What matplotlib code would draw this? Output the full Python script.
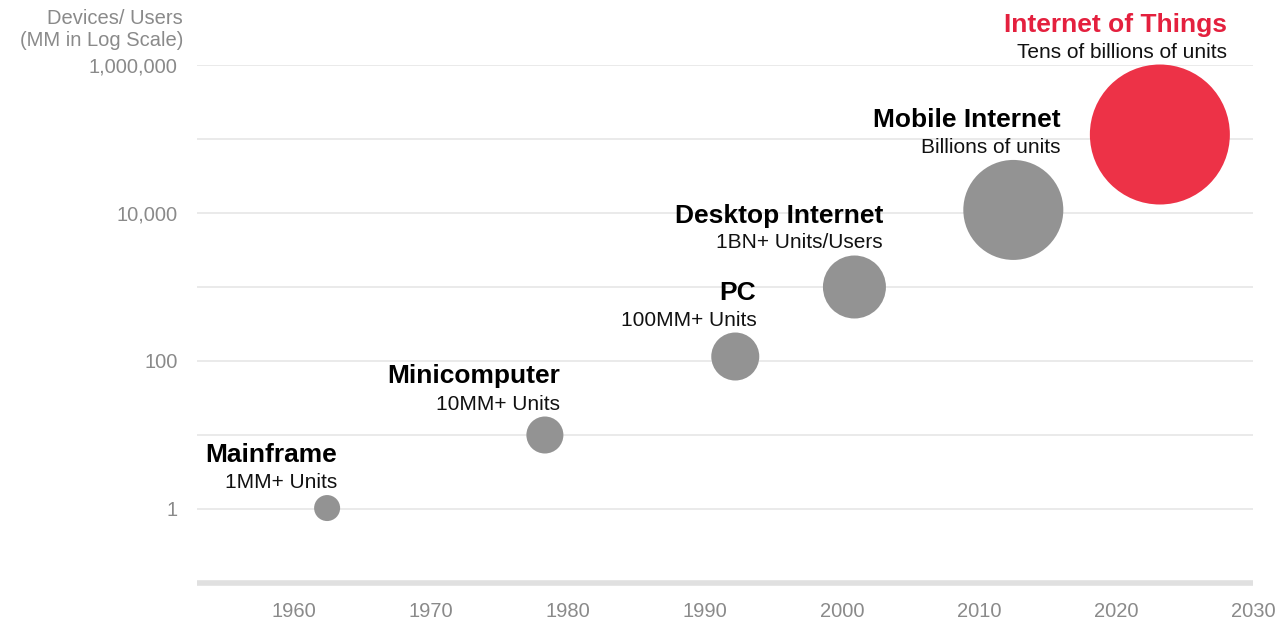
import numpy as np
import matplotlib
matplotlib.use('Agg')
import matplotlib.pyplot as plt
from matplotlib.ticker import FixedLocator, NullLocator

plt.rcParams['font.family'] = ['Liberation Sans', 'DejaVu Sans']

# data
eras = ['Mainframe', 'Minicomputer', 'PC', 'Desktop Internet', 'Mobile Internet', 'Internet of Things']
subtitles = ['1MM+ Units', '10MM+ Units', '100MM+ Units', '1BN+ Units/Users',
             'Billions of units', 'Tens of billions of units']
years = [1962.4, 1978.3, 1992.2, 2000.9, 2012.5, 2023.2]
devices = [1.03, 10, 115, 1000, 11000, 115000]   # MM, log scale
x_ticks = [1960, 1970, 1980, 1990, 2000, 2010, 2020, 2030]
y_ticks = [1, 100, 10000, 1000000]
y_ticklabels = ['1', '100', '10,000', '1,000,000']

# bubble diameters in pixels
bubble_px = [26, 37, 48, 63, 100, 140]
colors = ['#939393'] * 5 + ['#ED3247']
title_colors = ['black'] * 5 + ['#E4203E']

dpi = 100
fig = plt.figure(figsize=(12.8, 6.23), dpi=dpi)
ax = fig.add_axes([197 / 1280, 40 / 623, (1253 - 197) / 1280, (583 - 65) / 623])

ax.set_yscale('log')
ax.set_xlim(1952.9, 2030.0)
ax.set_ylim(10 ** -1.0, 1e6)

# grid every decade
for p in range(0, 7):
    ax.axhline(10 ** p, color='#e4e4e4', lw=1.1, zorder=0)

sizes = [(d * 72 / dpi) ** 2 for d in bubble_px]
ax.scatter(years, devices, s=sizes, c=colors, edgecolors='none', zorder=3, clip_on=False)

for i in range(len(eras)):
    r = bubble_px[i] / 2
    ax.annotate(subtitles[i], (years[i], devices[i]), xytext=(r - 3, r + 7),
                textcoords='offset pixels', ha='right', va='baseline',
                fontsize=15, color='#111111', annotation_clip=False)
    ax.annotate(eras[i], (years[i], devices[i]), xytext=(r - 3, r + 33),
                textcoords='offset pixels', ha='right', va='baseline',
                fontsize=19, fontweight='bold', color=title_colors[i],
                annotation_clip=False)

for s in ['top', 'right', 'left']:
    ax.spines[s].set_visible(False)
ax.spines['bottom'].set_color('#e0e0e0')
ax.spines['bottom'].set_linewidth(4)
ax.spines['bottom'].set_capstyle('butt')

ax.xaxis.set_major_locator(FixedLocator(x_ticks))
ax.yaxis.set_major_locator(FixedLocator(y_ticks))
ax.yaxis.set_minor_locator(NullLocator())
ax.set_yticklabels(y_ticklabels)
ax.tick_params(axis='both', length=0, labelsize=14.5, labelcolor='#8a8a8a')
ax.tick_params(axis='x', pad=14)
ax.tick_params(axis='y', pad=14)

fig.text(183 / 1280, 1 - 24 / 623, 'Devices/ Users', ha='right', va='baseline',
         fontsize=14.5, color='#8a8a8a')
fig.text(183 / 1280, 1 - 46 / 623, '(MM in Log Scale)', ha='right', va='baseline',
         fontsize=14.5, color='#8a8a8a')

fig.savefig('out.png', dpi=dpi)
